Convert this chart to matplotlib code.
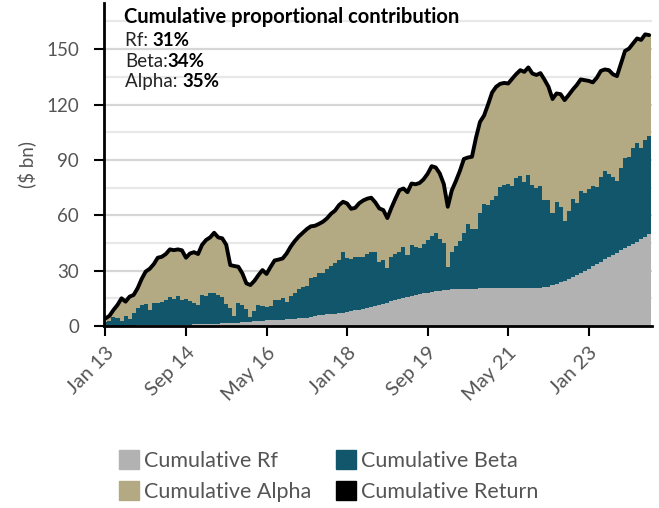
import matplotlib
matplotlib.use("Agg")
import matplotlib.pyplot as plt
from matplotlib.patches import Patch
import numpy as np

# ---- data (monthly, Jan 2013 .. Apr 2024), $ bn, cumulative ----
cum_rf = [0.0, 0.0, 0.1, 0.1, 0.1, 0.2, 0.2, 0.2, 0.3, 0.3,
          0.3, 0.4, 0.4, 0.4, 0.5, 0.5, 0.5, 0.6, 0.6, 0.7,
          0.7, 0.8, 0.9, 1.0, 1.0, 1.1, 1.2, 1.3, 1.3, 1.4,
          1.5, 1.6, 1.7, 1.8, 2.0, 2.1, 2.3, 2.5, 2.7, 2.9,
          3.0, 3.1, 3.2, 3.4, 3.5, 3.7, 3.9, 4.0, 4.2, 4.3,
          4.6, 5.0, 5.4, 5.8, 6.0, 6.3, 6.5, 6.7, 6.9, 7.2,
          7.6, 8.0, 8.4, 8.8, 9.3, 9.8, 10.3, 10.8, 11.4, 12.0,
          12.6, 13.3, 14.0, 14.6, 15.2, 15.8, 16.3, 16.8, 17.3, 17.7,
          18.1, 18.5, 18.8, 19.1, 19.4, 19.6, 19.8, 19.9, 20.0, 20.1,
          20.2, 20.3, 20.3, 20.4, 20.4, 20.5, 20.5, 20.5, 20.6, 20.6,
          20.7, 20.7, 20.8, 20.8, 20.8, 20.8, 20.8, 20.8, 20.8, 20.9,
          21.3, 22.0, 23.0, 24.0, 24.5, 25.3, 26.5, 27.6, 28.7, 29.8,
          30.9, 32.5, 33.6, 34.7, 36.1, 37.2, 38.3, 39.5, 41.0, 42.2,
          43.5, 44.4, 45.5, 46.9, 48.2, 49.8]

# top of the Beta layer (Rf + Beta)
cum_rf_beta = [2.4, 2.9, 4.7, 4.1, 2.9, 5.4, 3.6, 7.2, 9.6, 11.4,
               11.9, 8.7, 12.3, 12.6, 13.2, 14.1, 15.9, 14.6, 16.2, 14.1,
               14.4, 13.5, 12.3, 11.4, 16.8, 16.2, 17.7, 17.7, 17.0, 15.9,
               12.0, 9.6, 5.4, 12.3, 11.4, 9.0, 4.7, 8.0, 11.4, 10.8,
               10.5, 11.0, 14.1, 14.1, 15.0, 13.2, 16.0, 17.7, 19.9, 20.9,
               21.7, 25.8, 26.7, 28.5, 28.5, 30.9, 32.5, 33.9, 35.7, 40.2,
               36.6, 36.1, 37.2, 37.2, 37.2, 39.0, 40.2, 40.2, 34.8, 35.5,
               31.2, 37.2, 39.0, 40.2, 42.9, 38.4, 43.7, 43.0, 42.5, 44.5,
               46.5, 49.0, 50.5, 47.0, 44.8, 32.1, 40.2, 43.3, 46.2, 50.5,
               55.2, 52.4, 52.4, 61.0, 66.1, 65.5, 68.2, 70.4, 75.1, 76.3,
               77.2, 75.8, 80.0, 81.2, 78.1, 81.8, 76.3, 74.5, 75.8, 68.2,
               68.2, 61.0, 67.3, 64.6, 57.0, 62.4, 68.6, 66.8, 73.1, 71.8,
               74.0, 75.8, 75.4, 80.8, 84.1, 82.3, 80.8, 78.7, 85.7, 90.8,
               91.7, 96.2, 99.2, 96.7, 100.7, 102.9]

cum_return = [4.1, 5.5, 8.7, 11.4, 15.0, 13.2, 15.9, 16.8, 20.5, 25.5,
              29.5, 31.0, 33.5, 37.0, 37.5, 39.0, 41.5, 41.1, 41.5, 41.0,
              37.0, 39.3, 40.0, 39.0, 44.0, 46.6, 48.0, 50.5, 48.0, 47.5,
              44.0, 33.0, 32.5, 32.1, 28.5, 23.1, 22.2, 24.5, 27.6, 30.3,
              28.2, 32.0, 35.5, 36.0, 36.6, 39.3, 43.0, 46.0, 48.5, 50.5,
              52.5, 54.0, 54.3, 55.3, 56.5, 58.3, 60.8, 62.5, 65.5, 67.3,
              66.4, 63.5, 64.0, 66.5, 68.0, 69.0, 69.5, 67.0, 63.7, 62.8,
              58.5, 64.0, 69.0, 73.6, 74.5, 72.5, 77.2, 76.8, 77.5, 79.5,
              82.5, 86.6, 85.9, 82.7, 77.0, 64.6, 73.5, 78.5, 84.0, 90.5,
              91.3, 91.7, 102.0, 110.6, 114.0, 120.0, 126.5, 129.6, 131.2, 131.7,
              131.4, 134.0, 136.5, 138.6, 137.7, 140.1, 136.8, 136.0, 137.0, 133.5,
              129.6, 123.0, 126.0, 125.6, 122.4, 125.1, 128.0, 130.5, 133.6, 133.2,
              132.8, 132.0, 134.5, 138.2, 139.0, 138.6, 136.4, 135.4, 142.2, 149.0,
              150.3, 153.1, 155.8, 155.0, 158.0, 157.6]

tick_pos = [0, 20, 40, 60, 80, 100, 120]
tick_labels = ["Jan 13", "Sep 14", "May 16", "Jan 18", "Sep 19", "May 21", "Jan 23"]

legend_labels = ["Cumulative Rf", "Cumulative Beta", "Cumulative Alpha", "Cumulative Return"]
shares = [("Rf: ", "31%"), ("Beta:", "34%"), ("Alpha: ", "35%")]

# ---- styling ----
C_RF = "#b2b2b2"
C_BETA = "#12566b"
C_ALPHA = "#b3a983"
C_RET = "#000000"
TXT = "#555555"
FONT = ["Lato", "DejaVu Sans"]
plt.rcParams["font.family"] = FONT

W, H = 659, 508
fig = plt.figure(figsize=(W / 100, H / 100), dpi=100)
ax = fig.add_axes([104 / W, 1 - 326 / H, (652 - 104) / W, (326 - 3) / H])

rf = np.array(cum_rf)
top = np.array(cum_rf_beta)
ret = np.array(cum_return)
beta = top - rf
alpha = ret - top
x = np.arange(len(rf))

ax.bar(x, rf, width=1.0, color=C_RF, linewidth=0, zorder=2)
ax.bar(x, beta, width=1.0, bottom=rf, color=C_BETA, linewidth=0, zorder=2)
ax.bar(x, alpha, width=1.0, bottom=top, color=C_ALPHA, linewidth=0, zorder=2)
ax.plot(x, ret, color=C_RET, linewidth=2.8, solid_joinstyle="round",
        solid_capstyle="round", zorder=4)

ax.set_xlim(-0.35, len(rf) - 0.3)
ax.set_ylim(0, 175)

# grid
for v in range(15, 170, 15):
    col = "#d6d6d6" if v % 30 == 0 else "#e8e8e8"
    ax.axhline(v, color=col, linewidth=1.6, zorder=1)

ax.set_yticks(range(0, 151, 30))
ax.set_xticks(tick_pos)
ax.set_xticklabels(tick_labels, rotation=45, ha="right", rotation_mode="anchor")
ax.tick_params(axis="y", length=7, width=1.5, color="black", labelsize=13.5,
               labelcolor=TXT, pad=11)
ax.tick_params(axis="x", length=7, width=1.5, color="black", labelsize=14.5,
               labelcolor=TXT, pad=6)

for s in ["top", "right"]:
    ax.spines[s].set_visible(False)
for s in ["left", "bottom"]:
    ax.spines[s].set_linewidth(2)
    ax.spines[s].set_color("black")
ax.spines["bottom"].set_zorder(5)

fig.text(27 / W, 1 - 165 / H, "($ bn)", rotation=90, ha="center", va="center",
         fontsize=13.5, color=TXT)

# annotation block
fig.text(124 / W, 1 - 23 / H, "Cumulative proportional contribution",
         fontsize=14.5, fontweight="bold", color="black", va="baseline")
renderer = fig.canvas.get_renderer()
base_ys = [46, 67, 87]
for (lab, val), by in zip(shares, base_ys):
    t = fig.text(125 / W, 1 - by / H, lab, fontsize=13.5, color="#222222",
                 va="baseline", fontweight="normal")
    bb = t.get_window_extent(renderer)
    fig.text(bb.x1 / W, 1 - by / H, val, fontsize=13.5, color="black",
             va="baseline", fontweight="bold")

handles = [Patch(color=C_RF), Patch(color=C_ALPHA), Patch(color=C_BETA), Patch(color=C_RET)]
labels = [legend_labels[0], legend_labels[2], legend_labels[1], legend_labels[3]]
leg = fig.legend(handles, labels, loc="upper left", bbox_to_anchor=(119 / W, 1 - 450 / H),
                 ncol=2, frameon=False, fontsize=15.5, handlelength=0.95, handleheight=0.95,
                 handletextpad=0.2, columnspacing=1.15, labelspacing=0.5, borderaxespad=0,
                 borderpad=0)
for t in leg.get_texts():
    t.set_color(TXT)

fig.savefig("out.png", dpi=100)
